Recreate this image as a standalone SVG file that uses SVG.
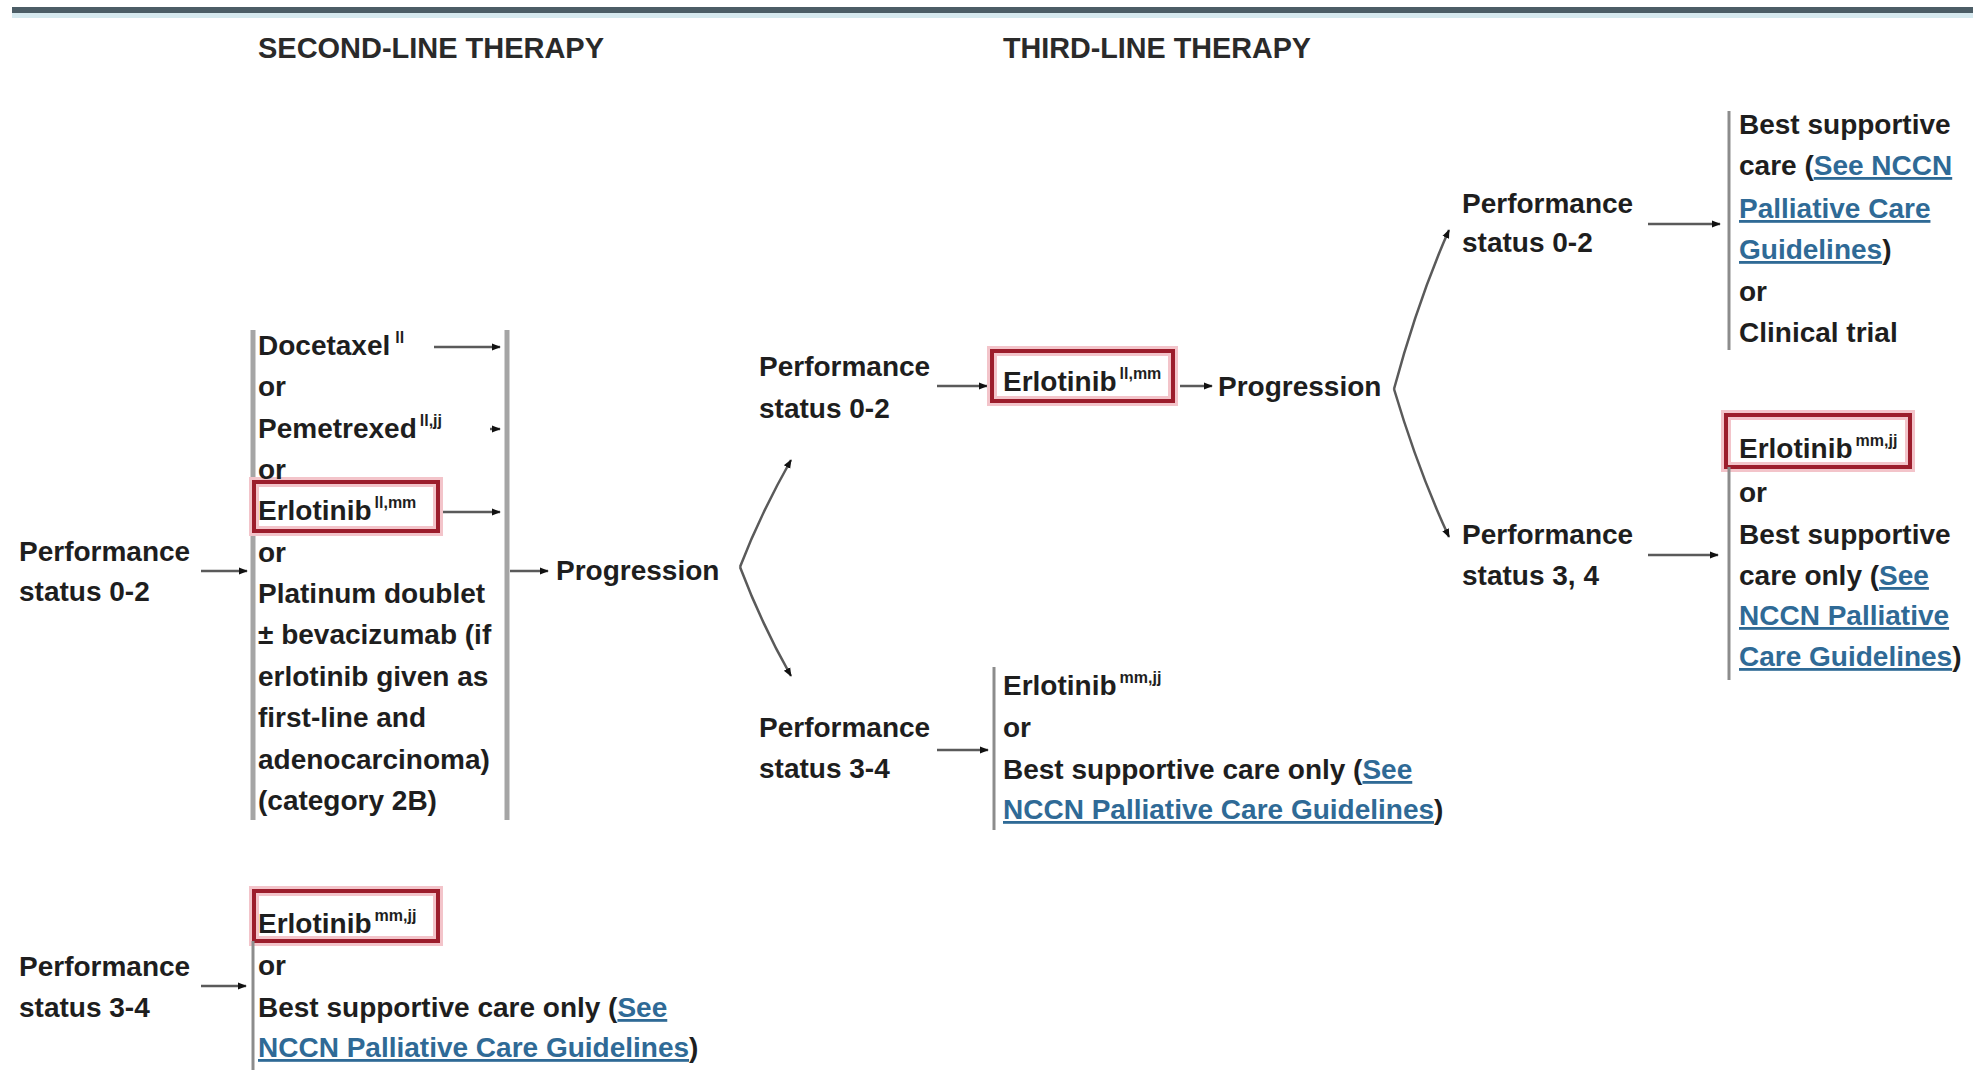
<svg xmlns="http://www.w3.org/2000/svg" width="1973" height="1070" viewBox="0 0 1973 1070">
<style>
  text { font-family: "Liberation Sans", Arial, sans-serif; font-size: 28px; font-weight: bold; fill: #1e1e1e; }
  .hdr { font-size: 29px; fill: #2a2a2a; }
  .sup { font-size: 16px; }
  .lnk { fill: #2f6a96; text-decoration: underline; }
  .bar { stroke: #a5a5a5; stroke-width: 5; }
  .bar2 { stroke: #8c8c8c; stroke-width: 3; }
  .con { stroke: #5a5a5a; stroke-width: 2.5; fill: none; marker-end: url(#ah); }
  .glow { fill: none; stroke: #f3c4ca; stroke-width: 10; }
  .box { fill: none; stroke: #9c1d2c; stroke-width: 4; }
</style>
<defs>
  <marker id="ah" viewBox="0 0 10 10" refX="9" refY="5" markerWidth="9" markerHeight="9" markerUnits="userSpaceOnUse" orient="auto">
    <path d="M0,1 L10,5 L0,9 Z" fill="#111"/>
  </marker>
</defs>
<rect width="1973" height="1070" fill="#ffffff"/>
<rect x="12" y="13" width="1961" height="5" fill="#d6e9ef"/>
<rect x="12" y="7" width="1961" height="6" fill="#4c5d66"/>

<g id="headers">
  <text class="hdr" x="258" y="58" textLength="346" lengthAdjust="spacingAndGlyphs">SECOND-LINE THERAPY</text>
  <text class="hdr" x="1003" y="58" textLength="308" lengthAdjust="spacingAndGlyphs">THIRD-LINE THERAPY</text>
</g>

<g id="connectors">
  <line class="con" x1="201" y1="571" x2="247" y2="571"/>
  <line class="con" x1="434" y1="347" x2="500" y2="347"/>
  <line class="con" x1="490" y1="429" x2="500" y2="429"/>
  <line class="con" x1="443" y1="512" x2="500" y2="512"/>
  <line class="con" x1="510" y1="571" x2="548" y2="571"/>
  <path class="con" d="M740,567 Q760,515 791,460"/>
  <path class="con" d="M740,567 Q762,625 791,676"/>
  <line class="con" x1="937" y1="386" x2="987" y2="386"/>
  <line class="con" x1="1180" y1="386" x2="1212" y2="386"/>
  <path class="con" d="M1394,389 Q1418,300 1449,230"/>
  <path class="con" d="M1394,389 Q1418,470 1449,537"/>
  <line class="con" x1="937" y1="750" x2="988" y2="750"/>
  <line class="con" x1="1648" y1="224" x2="1720" y2="224"/>
  <line class="con" x1="1648" y1="555" x2="1718" y2="555"/>
  <line class="con" x1="201" y1="986" x2="246" y2="986"/>
</g>

<g id="ps02-second">
  <text x="19" y="561">Performance</text>
  <text x="19" y="601">status 0-2</text>
</g>

<g id="options-second">
  <line class="bar" x1="253" y1="330" x2="253" y2="820"/>
  <line class="bar" x1="507" y1="330" x2="507" y2="820"/>
  <rect class="glow" x="254" y="482" width="184" height="49"/>
  <rect class="box" x="254" y="482" width="184" height="49"/>
  <text x="258" y="355">Docetaxel<tspan class="sup" dx="5" dy="-12">ll</tspan></text>
  <text x="258" y="396">or</text>
  <text x="258" y="438">Pemetrexed<tspan class="sup" dx="3" dy="-12">ll,jj</tspan></text>
  <text x="258" y="479">or</text>
  <text x="258" y="520">Erlotinib<tspan class="sup" dx="3" dy="-12">ll,mm</tspan></text>
  <text x="258" y="562">or</text>
  <text x="258" y="603">Platinum doublet</text>
  <text x="258" y="644">± bevacizumab (if</text>
  <text x="258" y="686">erlotinib given as</text>
  <text x="258" y="727">first-line and</text>
  <text x="258" y="769">adenocarcinoma)</text>
  <text x="258" y="810">(category 2B)</text>
</g>

<g id="progression-second">
  <text x="556" y="580">Progression</text>
</g>

<g id="ps02-third">
  <text x="759" y="376">Performance</text>
  <text x="759" y="418">status 0-2</text>
</g>

<g id="erlotinib-third">
  <rect class="glow" x="992" y="351" width="181" height="50"/>
  <rect class="box" x="992" y="351" width="181" height="50"/>
  <text x="1003" y="391">Erlotinib<tspan class="sup" dx="3" dy="-12">ll,mm</tspan></text>
</g>

<g id="progression-third">
  <text x="1218" y="396">Progression</text>
</g>

<g id="ps34-third">
  <text x="759" y="737">Performance</text>
  <text x="759" y="778">status 3-4</text>
</g>

<g id="options-ps34-third">
  <line class="bar2" x1="994" y1="667" x2="994" y2="830"/>
  <text x="1003" y="695">Erlotinib<tspan class="sup" dx="3" dy="-12">mm,jj</tspan></text>
  <text x="1003" y="737">or</text>
  <text x="1003" y="779">Best supportive care only (<tspan class="lnk">See</tspan></text>
  <text x="1003" y="819"><tspan class="lnk">NCCN Palliative Care Guidelines</tspan>)</text>
</g>

<g id="ps02-fourth">
  <text x="1462" y="213">Performance</text>
  <text x="1462" y="252">status 0-2</text>
</g>

<g id="options-ps02-fourth">
  <line class="bar2" x1="1729" y1="111" x2="1729" y2="350"/>
  <text x="1739" y="134">Best supportive</text>
  <text x="1739" y="175">care (<tspan class="lnk">See NCCN</tspan></text>
  <text x="1739" y="218"><tspan class="lnk">Palliative Care</tspan></text>
  <text x="1739" y="259"><tspan class="lnk">Guidelines</tspan>)</text>
  <text x="1739" y="301">or</text>
  <text x="1739" y="342">Clinical trial</text>
</g>

<g id="ps34-fourth">
  <text x="1462" y="544">Performance</text>
  <text x="1462" y="585">status 3, 4</text>
</g>

<g id="options-ps34-fourth">
  <rect class="glow" x="1726" y="415" width="184" height="52"/>
  <rect class="box" x="1726" y="415" width="184" height="52"/>
  <line class="bar2" x1="1729" y1="467" x2="1729" y2="680"/>
  <text x="1739" y="458">Erlotinib<tspan class="sup" dx="3" dy="-12">mm,jj</tspan></text>
  <text x="1739" y="502">or</text>
  <text x="1739" y="544">Best supportive</text>
  <text x="1739" y="585">care only (<tspan class="lnk">See</tspan></text>
  <text x="1739" y="625"><tspan class="lnk">NCCN Palliative</tspan></text>
  <text x="1739" y="666"><tspan class="lnk">Care Guidelines</tspan>)</text>
</g>

<g id="ps34-second">
  <text x="19" y="976">Performance</text>
  <text x="19" y="1017">status 3-4</text>
</g>

<g id="options-ps34-second">
  <rect class="glow" x="254" y="891" width="184" height="50"/>
  <rect class="box" x="254" y="891" width="184" height="50"/>
  <line class="bar2" x1="253" y1="941" x2="253" y2="1070"/>
  <text x="258" y="933">Erlotinib<tspan class="sup" dx="3" dy="-12">mm,jj</tspan></text>
  <text x="258" y="975">or</text>
  <text x="258" y="1017">Best supportive care only (<tspan class="lnk">See</tspan></text>
  <text x="258" y="1057"><tspan class="lnk">NCCN Palliative Care Guidelines</tspan>)</text>
</g>
</svg>
